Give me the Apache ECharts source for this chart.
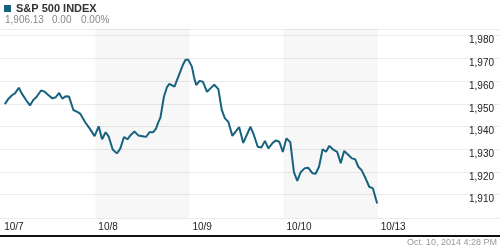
<!DOCTYPE html>
<html><head><meta charset="utf-8">
<script src="https://cdn.jsdelivr.net/npm/echarts@6/dist/echarts.min.js"></script>
<style>html,body{margin:0;padding:0;background:#fff}#c{width:500px;height:250px}</style>
</head><body><div id="c"></div>
<script>
const seriesName = 'S&P 500 INDEX';
const quoteLast = '1,906.13';
const quoteChange = '0.00';
const quotePct = '0.00%';
const timestamp = 'Oct. 10, 2014 4:28 PM';
const dayLabels = ['10/7', '10/8', '10/9', '10/10', '10/13'];
const dayStarts = [0, 390, 780, 1170, 1560]; // trading minutes since 10/7 open
const shadedDays = [[390, 780], [1170, 1560]];
const yTicks = [1910, 1920, 1930, 1940, 1950, 1960, 1970, 1980];
const yMin = 1899.74, yMax = 1982.95;

const minutes = [15, 29, 46, 57, 73, 85, 103, 119, 133, 147, 165, 179, 195, 212, 226, 240, 253, 267, 281, 299, 315, 327, 348, 367, 387,
  404, 418, 433, 445, 462, 479, 493, 509, 523, 537, 552, 568, 592, 601, 614, 630, 641, 650, 660, 674, 687, 697, 704, 718, 736, 753, 764, 775,
  790, 799, 808, 822, 836, 853, 867, 883, 900, 914, 927, 941, 958, 973, 986, 1003, 1033, 1047, 1063, 1078, 1093, 1107, 1125, 1139, 1153, 1167,
  1182, 1198, 1213, 1227, 1241, 1258, 1272, 1290, 1303, 1317, 1332, 1346, 1360, 1376, 1392, 1407, 1421, 1439, 1453, 1467, 1480, 1494, 1511, 1525, 1540, 1558];
const values = [1949.9, 1952.1, 1953.9, 1954.6, 1957.1, 1954.6, 1951.7, 1949.3, 1951.7, 1953.1, 1955.9, 1955.4, 1953.9, 1952.4, 1952.9, 1954.8, 1952.3, 1953.3, 1953.2, 1947.3, 1946.5, 1945.7, 1941.9, 1939.1, 1935.8,
  1940.1, 1934.4, 1937.5, 1935.7, 1929.9, 1928.2, 1930.2, 1935.4, 1934.4, 1936.3, 1937.8, 1936.1, 1935.6, 1935.5, 1937.5, 1937.5, 1939.0, 1941.6, 1944.0, 1953.0, 1957.4, 1958.8, 1959.0, 1957.6, 1962.5, 1967.2, 1969.4, 1969.4,
  1966.5, 1961.8, 1958.3, 1960.1, 1959.7, 1955.3, 1956.8, 1958.4, 1956.5, 1947.3, 1943.6, 1942.1, 1935.9, 1938.0, 1939.8, 1932.8, 1939.9, 1936.3, 1931.1, 1930.8, 1933.7, 1930.4, 1932.8, 1933.9, 1933.2, 1928.8,
  1934.8, 1933.1, 1919.9, 1916.1, 1919.9, 1921.7, 1921.9, 1919.4, 1919.2, 1922.3, 1930.0, 1928.9, 1931.5, 1929.8, 1928.9, 1923.9, 1929.2, 1927.5, 1926.0, 1925.6, 1922.3, 1920.7, 1917.0, 1913.5, 1912.8, 1906.13];

const lineColor = '#17637f';
const data = minutes.map((m, i) => [m, values[i]]);
const chart = echarts.init(document.getElementById('c'), null, {renderer: 'canvas'});
chart.setOption({
  animation: false,
  backgroundColor: '#fff',
  grid: {left: 0, right: 0, top: 29, bottom: 32},
  legend: {
    left: 4, top: 3, padding: 0, itemWidth: 7, itemHeight: 7, icon: 'rect',
    data: [seriesName],
    textStyle: {fontFamily: 'Liberation Sans, Arial, sans-serif', fontWeight: 'bold', fontSize: 11, color: '#333'}
  },
  graphic: [
    {type: 'text', left: 5, top: 15, style: {text: quoteLast, font: '10px "Liberation Sans", Arial, sans-serif', fill: '#888'}},
    {type: 'text', left: 52, top: 15, style: {text: quoteChange, font: '10px "Liberation Sans", Arial, sans-serif', fill: '#888'}},
    {type: 'text', left: 81, top: 15, style: {text: quotePct, font: '10px "Liberation Sans", Arial, sans-serif', fill: '#888'}},
    {type: 'text', right: 3, top: 238, style: {text: timestamp, font: '9px "Liberation Sans", Arial, sans-serif', fill: '#999'}}
  ],
  xAxis: {
    type: 'value', min: -5, max: 2067, offset: 18,
    axisLine: {show: true, onZero: false, lineStyle: {color: '#111', width: 2}},
    axisTick: {show: false, customValues: dayStarts},
    splitLine: {show: false},
    axisLabel: {
      customValues: dayStarts, inside: true, margin: 4, align: 'left', padding: [0, 0, 0, 3],
      fontFamily: '"Liberation Sans Narrow", "Liberation Sans", Arial, sans-serif', fontSize: 10, color: '#222',
      formatter: v => dayLabels[dayStarts.indexOf(v)]
    }
  },
  yAxis: {
    type: 'value', position: 'right', min: yMin, max: yMax,
    axisLine: {show: false},
    axisTick: {show: false, customValues: [yMin].concat(yTicks, [yMax])},
    splitLine: {show: true, lineStyle: {color: '#ebebeb', width: 1}},
    axisLabel: {
      customValues: yTicks, inside: true, margin: 6, verticalAlign: 'top', lineHeight: 10,
      fontFamily: '"Liberation Sans Narrow", "Liberation Sans", Arial, sans-serif', fontSize: 10, color: '#222',
      formatter: v => v.toLocaleString('en-US')
    }
  },
  series: [{
    name: seriesName, type: 'line', data: data, showSymbol: false, symbol: 'none',
    lineStyle: {color: lineColor, width: 2}, itemStyle: {color: lineColor},
    markArea: {silent: true, itemStyle: {color: 'rgba(0,0,0,0.032)'},
      data: shadedDays.map(d => [{xAxis: d[0]}, {xAxis: d[1]}])}
  }]
});
</script></body></html>
